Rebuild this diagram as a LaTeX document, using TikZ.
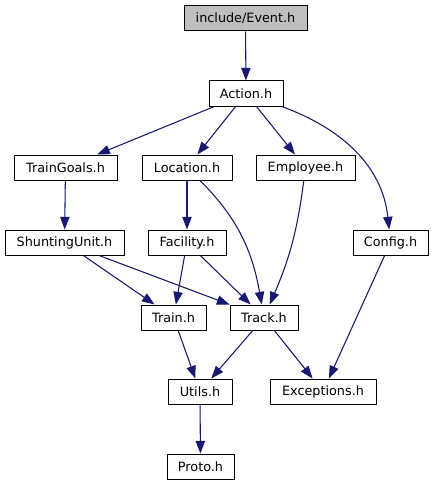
\documentclass[tikz,border=0pt]{standalone}
\usepackage{fontspec}
\setmainfont{DejaVu Sans}
\usepackage{tikz}
\usetikzlibrary{arrows.meta, positioning}

\definecolor{edgeblue}{HTML}{191970}
\definecolor{rootgray}{HTML}{BFBFBF}

\begin{document}
\begin{tikzpicture}[
    x=0.75pt, y=-0.75pt,
    every edge/.style={draw=edgeblue, line width=0.8pt, -{Triangle[length=9.5pt, width=7pt]}},
    header/.style={rectangle, draw=black, line width=0.75pt, fill=white, inner sep=0pt,
      minimum height=18.75pt, minimum width=#1*0.75pt,
      font=\fontsize{9.6pt}{11pt}\selectfont},
    root/.style={header=#1, fill=rootgray}
  ]
  \useasboundingbox (0,0) rectangle (434,485);

  \node[root=123] (event) at (245.5,18.5) {include/Event.h};
  \node[header=74] (action) at (246,93.5) {Action.h};

  \node[header=103] (traingoals) at (65.5,167.5) {TrainGoals.h};
  \node[header=90] (location) at (187,167.5) {Location.h};
  \node[header=99] (employee) at (305.5,167.5) {Employee.h};

  \node[header=119] (shuntingunit) at (64.5,242.5) {ShuntingUnit.h};
  \node[header=78] (facility) at (187,242.5) {Facility.h};
  \node[header=75] (config) at (390.5,242.5) {Config.h};

  \node[header=65] (train) at (173.5,317.5) {Train.h};
  \node[header=68] (track) at (264,317.5) {Track.h};

  \node[header=64] (utils) at (200,391.5) {Utils.h};
  \node[header=106] (exceptions) at (323,391.5) {Exceptions.h};

  \node[header=67] (proto) at (200.5,466.5) {Proto.h};

  \path
    (event) edge (action)

    (action) edge (traingoals)
    (action) edge (location)
    (action) edge (employee)
    (action) edge[out=-20, in=96] (config)

    (traingoals) edge (shuntingunit)

    (location) edge (facility)
    (location) edge[out=-45, in=100] (track)

    (employee) edge[bend left=8] (track)

    (shuntingunit) edge (train)
    (shuntingunit) edge (track)

    (facility) edge (train)
    (facility) edge (track)

    (config) edge (exceptions)

    (train) edge (utils)
    (track) edge (utils)
    (track) edge (exceptions)

    (utils) edge (proto)
  ;
\end{tikzpicture}
\end{document}
